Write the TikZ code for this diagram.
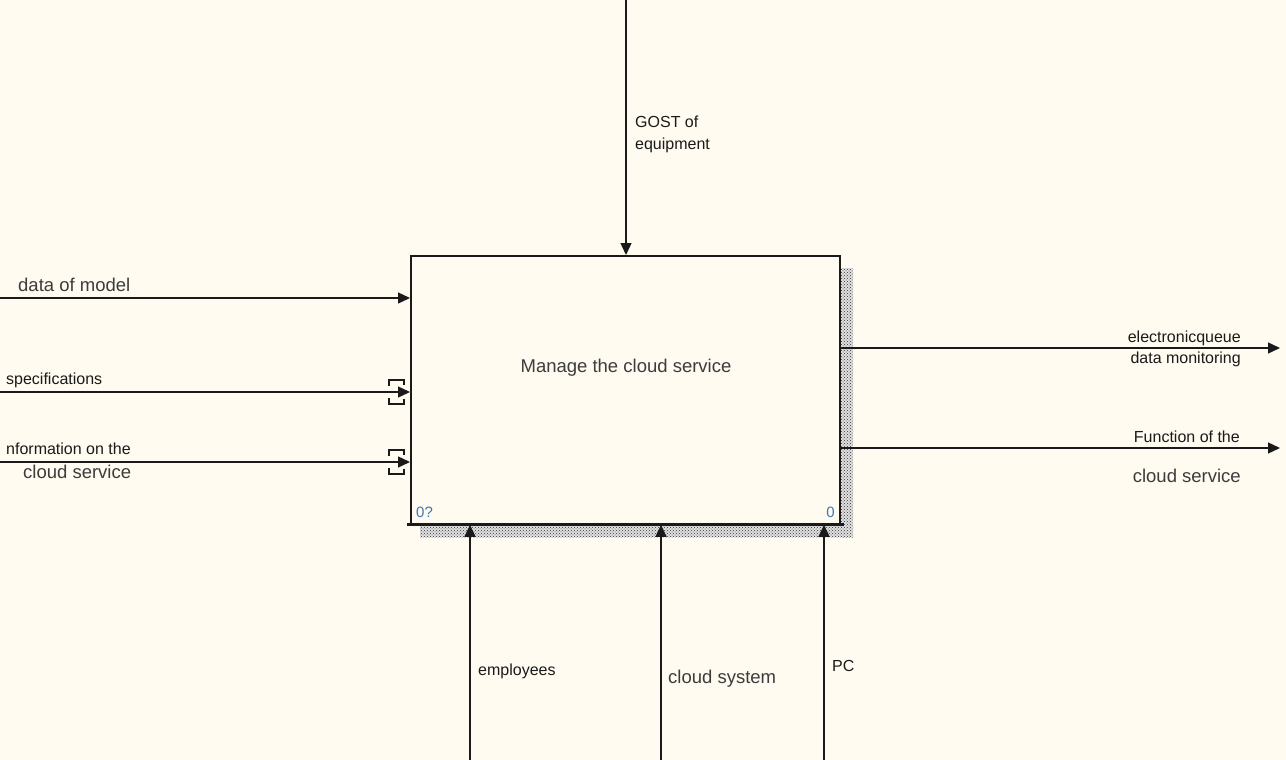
\documentclass[tikz,border=0pt]{standalone}
\usepackage{fontspec}
\setmainfont{Liberation Sans}
\usetikzlibrary{arrows.meta,patterns}
\definecolor{paper}{HTML}{FFFBF0}
\definecolor{ink}{HTML}{1A1A1A}
\definecolor{numblue}{HTML}{3C78B4}

\begin{document}
\begin{tikzpicture}[x=1pt,y=-1pt,
  flow/.style={draw=ink, line width=1.4pt, -{Triangle[length=12pt,width=11pt]}},
  small/.style={font=\fontsize{16}{18}\selectfont, inner sep=0pt, text=ink},
  large/.style={font=\fontsize{18.5}{20}\selectfont, inner sep=0pt, text=ink!85},
  numtext/.style={font=\fontsize{15}{17}\selectfont, inner sep=0pt, text=numblue},
  shade/.style={fill=black!12, postaction={pattern=crosshatch dots, pattern color=black!80}},
  tunnel/.style={draw=ink, line width=1.4pt}]

% page
\fill[paper] (0,0) rectangle (1286,760);
\useasboundingbox (0,0) rectangle (1286,760);

% activity box with its hatched shadow
\fill[shade] (841,268) rectangle (853,537);
\fill[shade] (420,525) rectangle (853,537);
\node[draw=ink, line width=1.8pt, fill=paper, minimum width=429pt, minimum height=268pt,
      anchor=north west, inner sep=0pt] (box) at (410,255) {};
\draw[ink, line width=3pt] (407,524.5) -- (844,524.5);

\node[large, anchor=base] (title) at (626,372) {Manage the cloud service};
\node[numtext, anchor=base west] (num) at (416,517) {0?};
\node[numtext, anchor=base east] (node) at (835,517) {0};

% control from above
\coordinate (ctl) at (626,0);
\draw[flow] (ctl) -- (ctl |- box.north);
\node[small, anchor=base west] (gost1) at (635,127) {GOST of};
\node[small, anchor=base west] (gost2) at (635,149) {equipment};

% inputs from the left
\coordinate (in1) at (0,298);
\coordinate (in2) at (0,392);
\coordinate (in3) at (0,462);
\draw[flow] (in1) -- (in1 -| box.west);
\draw[flow] (in2) -- (in2 -| box.west);
\draw[flow] (in3) -- (in3 -| box.west);
\node[large, anchor=base west] (lin1) at (18,291) {data of model};
\node[small, anchor=base west] (lin2) at (6,384) {specifications};
\node[small, anchor=base west] (lin3a) at (6,454) {nformation on the};
\node[large, anchor=base west] (lin3b) at (23,478) {cloud service};

% tunnelled arrow ends
\foreach \yy in {392,462}{
  \draw[tunnel] (389,\yy-6) -- (389,\yy-12) -- (404,\yy-12) -- (404,\yy-7);
  \draw[tunnel] (389,\yy+6) -- (389,\yy+12) -- (404,\yy+12) -- (404,\yy+7);
}

% outputs to the right
\coordinate (out1) at (1280,348);
\coordinate (out2) at (1280,448);
\draw[flow] (out1 -| box.east) -- (out1);
\draw[flow] (out2 -| box.east) -- (out2);
\node[small, anchor=base east] (lout1a) at (1241,342) {electronicqueue};
\node[small, anchor=base east] (lout1b) at (1241,363) {data monitoring};
\node[small, anchor=base east] (lout2a) at (1240,442) {Function of the};
\node[large, anchor=base east] (lout2b) at (1241,482) {cloud service};

% mechanisms from below
\coordinate (m1) at (470,760);
\coordinate (m2) at (661,760);
\coordinate (m3) at (824,760);
\draw[flow] (m1) -- (m1 |- box.south);
\draw[flow] (m2) -- (m2 |- box.south);
\draw[flow] (m3) -- (m3 |- box.south);
\node[small, anchor=base west] (lm1) at (478,675) {employees};
\node[large, anchor=base west] (lm2) at (668,683) {cloud system};
\node[small, anchor=base west] (lm3) at (832,671) {PC};
\end{tikzpicture}
\end{document}
